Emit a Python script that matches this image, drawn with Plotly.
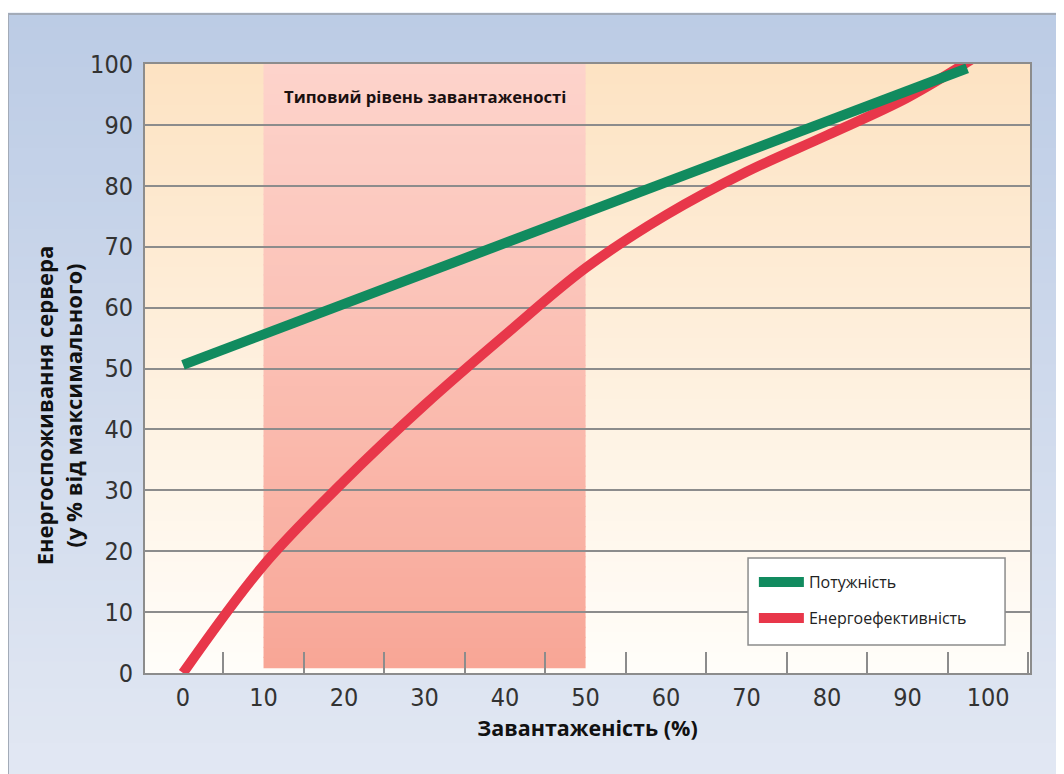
import plotly.graph_objects as go

# ---- data ----
load_power = [0, 97.4]
power = [50.6, 99.3]

load_eff = [0, 10, 20, 30, 40, 50, 60, 70, 80, 90, 98]
efficiency = [0, 17.7, 31.5, 44, 55.5, 66.5, 75.2, 82.3, 88.3, 94.5, 100.8]

x_ticks = [0, 10, 20, 30, 40, 50, 60, 70, 80, 90, 100]
y_ticks = [0, 10, 20, 30, 40, 50, 60, 70, 80, 90, 100]
band = [10, 50]

names = ["Потужність", "Енергоефективність"]
x_title = "Завантаженість (%)"
y_title = "Енергоспоживання сервера<br>(у % від максимального)"
band_label = "Типовий рівень завантаженості"

# ---- styling ----
GREEN = "#118b5f"
RED = "#e8374a"
GRID = "#8c8c8c"
TICKFONT = "Liberation Sans Narrow, DejaVu Sans Condensed, Arial Narrow, Roboto, sans-serif"
BOLDFONT = "Open Sans, Noto Sans, sans-serif"


def lerp(c1, c2, t):
    a = [int(c1[i:i + 2], 16) for i in (1, 3, 5)]
    b = [int(c2[i:i + 2], 16) for i in (1, 3, 5)]
    return "rgb(%d,%d,%d)" % tuple(round(a[k] + (b[k] - a[k]) * t) for k in range(3))


shapes = []
# outer light-blue frame (paper coords), gradient top->bottom
N = 60
fy0, fy1 = -0.25, 1.082
for i in range(N):
    y0 = fy1 - (fy1 - fy0) * (i + 1) / N
    y1 = fy1 - (fy1 - fy0) * i / N
    shapes.append(dict(type="rect", xref="paper", yref="paper", x0=-0.1548, x1=1.1,
                       y0=y0, y1=y1 + 0.002, fillcolor=lerp("#bccce5", "#e4e9f4", i / (N - 1)),
                       line=dict(width=0), layer="below"))
shapes.append(dict(type="rect", xref="paper", yref="paper", x0=-0.1548, x1=1.1, y0=fy0, y1=fy1,
                   fillcolor="rgba(0,0,0,0)", line=dict(color="#a3abb8", width=2), layer="below"))

# plot-area gradient (peach top -> white bottom)
for i in range(N):
    y0 = 100 * i / N
    y1 = 100 * (i + 1) / N
    shapes.append(dict(type="rect", xref="x", yref="y", x0=-10, x1=110, y0=y0, y1=y1 + 0.2,
                       fillcolor=lerp("#fffdf9", "#fde3c3", i / (N - 1)),
                       line=dict(width=0), layer="below"))

# typical load band (salmon bottom -> light pink top)
for i in range(N):
    y0 = 0.8 + (100 - 0.8) * i / N
    y1 = 0.8 + (100 - 0.8) * (i + 1) / N
    shapes.append(dict(type="rect", xref="x", yref="y", x0=band[0], x1=band[1], y0=y0, y1=y1 + 0.2,
                       fillcolor=lerp("#f8a696", "#fdd3cb", (i / (N - 1)) ** 0.9),
                       line=dict(width=0), layer="below"))

# legend box
shapes.append(dict(type="rect", xref="paper", yref="paper", x0=0.6814, x1=0.9718, y0=0.046, y1=0.1888,
                   fillcolor="white", line=dict(color="#8c8c8c", width=1.5), layer="above"))

fig = go.Figure()
fig.add_trace(go.Scatter(x=load_eff, y=efficiency, mode="lines", name=names[1],
                         line=dict(color=RED, width=10, shape="spline", smoothing=1.0),
                         legendrank=2, legendgroup="b"))
fig.add_trace(go.Scatter(x=load_power, y=power, mode="lines", name=names[0],
                         line=dict(color=GREEN, width=10),
                         legendrank=1, legendgroup="a"))

fig.add_annotation(x=sum(band) / 2, y=94.6, xref="x", yref="y", text=band_label, showarrow=False,
                   font=dict(family=BOLDFONT, size=16.7, color="#1a1010", weight="bold"))

# y-axis title (two lines, rotated)
fig.add_annotation(x=-0.098, y=0.44, xref="paper", yref="paper", text=y_title, showarrow=False,
                   textangle=-90, xanchor="center", yanchor="middle",
                   font=dict(family=BOLDFONT, size=22, color="#111", weight="bold"))

fig.update_layout(
    width=1064, height=774,
    margin=dict(l=137, r=42, t=56, b=109),
    paper_bgcolor="white",
    plot_bgcolor="rgba(0,0,0,0)",
    shapes=shapes,
    showlegend=True,
    legend=dict(x=0.688, y=0.177, xanchor="left", yanchor="top",
                bgcolor="rgba(0,0,0,0)", borderwidth=0,
                font=dict(family="Open Sans, sans-serif", size=16, color="#222"),
                tracegroupgap=12, itemwidth=45),
    xaxis=dict(range=[-4.72, 105.2], tickvals=x_ticks, showgrid=False, zeroline=False,
               showline=True, linecolor=GRID, linewidth=2, mirror=True,
               ticks="", ticklabelstandoff=1,
               tickfont=dict(family=TICKFONT, size=25, color="#333"),
               minor=dict(ticks="inside", ticklen=21, tickwidth=2, tickcolor=GRID,
                          tick0=5, dtick=10, showgrid=False),
               title=dict(text=x_title, standoff=10,
                          font=dict(family=BOLDFONT, size=21.5, color="#111", weight="bold"))),
    yaxis=dict(range=[0, 100], tickvals=y_ticks, showgrid=True, gridcolor=GRID, gridwidth=2,
               zeroline=False, showline=True, linecolor=GRID, linewidth=2, mirror=True,
               ticks="", ticklabelstandoff=5,
               tickfont=dict(family=TICKFONT, size=25, color="#333")),
)

fig.write_html("out.html")
